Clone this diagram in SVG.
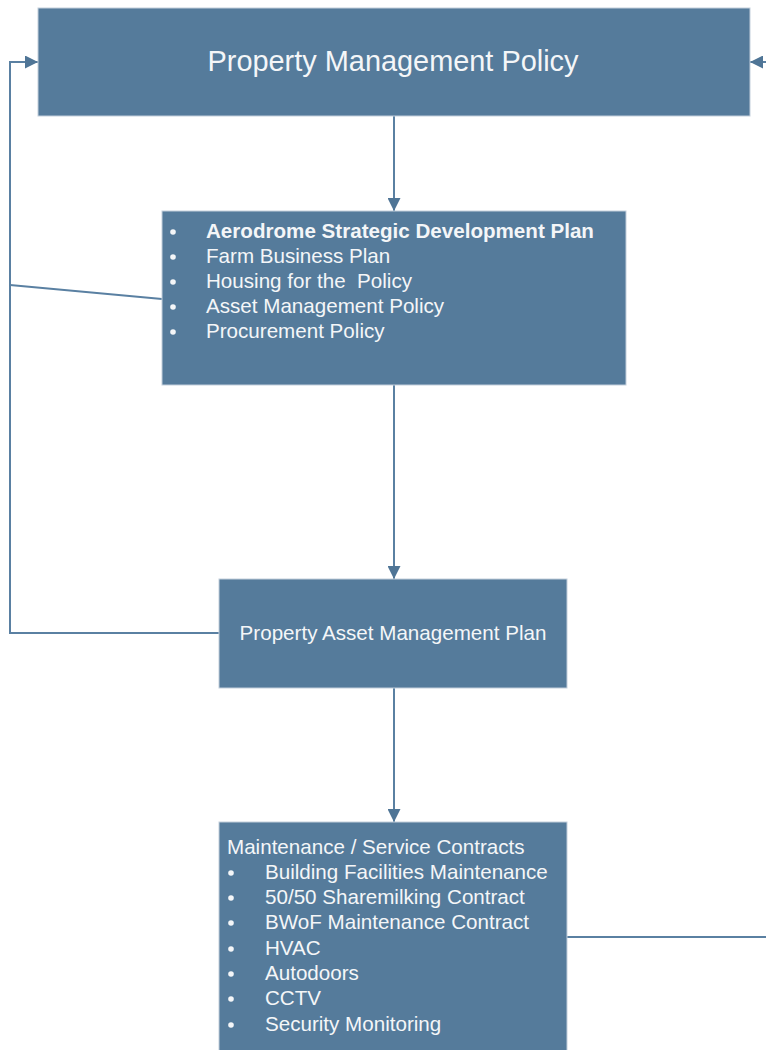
<svg xmlns="http://www.w3.org/2000/svg" width="766" height="1050" viewBox="0 0 766 1050">
  <style>
    .box { fill: #557b9b; stroke: #c3cfdb; stroke-width: 1; }
    .t { font-family: "Liberation Sans", Arial, sans-serif; fill: #f4f6f8; }
    .link { fill: none; stroke: #5a80a2; stroke-width: 2; }
    .dot { fill: #f4f6f8; }
  </style>
  <defs>
    <marker id="arrow" viewBox="0 0 10 10" refX="10" refY="5" markerWidth="6.5" markerHeight="6.5" orient="auto" markerUnits="strokeWidth">
      <path d="M0,0 L10,5 L0,10 Z" fill="#4f7596"/>
    </marker>
  </defs>

  <!-- connectors -->
  <g id="connectors">
    <path class="link" d="M394,116 V211" marker-end="url(#arrow)"/>
    <path class="link" d="M394,385 V579" marker-end="url(#arrow)"/>
    <path class="link" d="M394,688 V822" marker-end="url(#arrow)"/>
    <path class="link" d="M219,633 H10 V62 H38" marker-end="url(#arrow)"/>
    <path class="link" d="M10,285 L162,299"/>
    <path class="link" d="M567,937 H766"/>
    <path class="link" d="M766,62 H750" marker-end="url(#arrow)"/>
  </g>

  <!-- Property Management Policy -->
  <g id="policy">
    <rect class="box" x="38" y="8" width="712" height="108"/>
    <text class="t" x="393" y="71" font-size="28.9" text-anchor="middle">Property Management Policy</text>
  </g>

  <!-- Strategic documents -->
  <g id="plans">
    <rect class="box" x="162" y="211" width="464" height="174"/>
    <circle class="dot" cx="173" cy="232" r="2.8"/>
    <circle class="dot" cx="173" cy="257" r="2.8"/>
    <circle class="dot" cx="173" cy="282" r="2.8"/>
    <circle class="dot" cx="173" cy="307" r="2.8"/>
    <circle class="dot" cx="173" cy="332" r="2.8"/>
    <g class="t" font-size="20.6">
      <text x="206" y="238" font-weight="bold">Aerodrome Strategic Development Plan</text>
      <text x="206" y="263">Farm Business Plan</text>
      <text x="206" y="288" xml:space="preserve">Housing for the  Policy</text>
      <text x="206" y="313">Asset Management Policy</text>
      <text x="206" y="338">Procurement Policy</text>
    </g>
  </g>

  <!-- Property Asset Management Plan -->
  <g id="pamp">
    <rect class="box" x="219" y="579" width="348" height="109"/>
    <text class="t" x="393" y="640" font-size="20.6" text-anchor="middle">Property Asset Management Plan</text>
  </g>

  <!-- Maintenance / Service Contracts -->
  <g id="contracts">
    <rect class="box" x="219" y="822" width="348" height="240"/>
    <circle class="dot" cx="231" cy="873" r="2.8"/>
    <circle class="dot" cx="231" cy="898" r="2.8"/>
    <circle class="dot" cx="231" cy="923" r="2.8"/>
    <circle class="dot" cx="231" cy="949" r="2.8"/>
    <circle class="dot" cx="231" cy="974" r="2.8"/>
    <circle class="dot" cx="231" cy="999" r="2.8"/>
    <circle class="dot" cx="231" cy="1025" r="2.8"/>
    <g class="t" font-size="20.6">
      <text x="227" y="854">Maintenance / Service Contracts</text>
      <text x="265" y="879">Building Facilities Maintenance</text>
      <text x="265" y="904">50/50 Sharemilking Contract</text>
      <text x="265" y="929">BWoF Maintenance Contract</text>
      <text x="265" y="955">HVAC</text>
      <text x="265" y="980">Autodoors</text>
      <text x="265" y="1005">CCTV</text>
      <text x="265" y="1031">Security Monitoring</text>
    </g>
  </g>
</svg>
